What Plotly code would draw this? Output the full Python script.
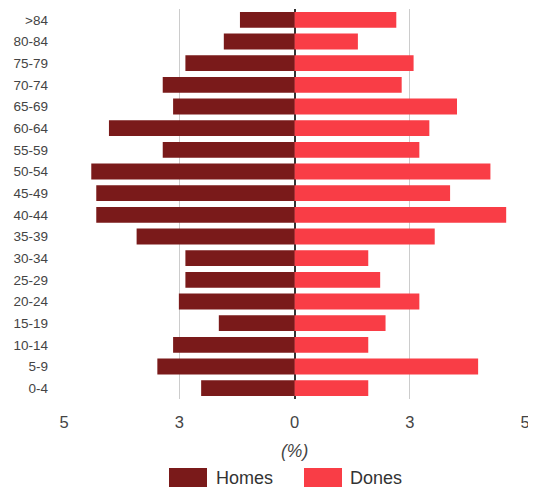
import plotly.graph_objects as go

age_groups = ["0-4", "5-9", "10-14", "15-19", "20-24", "25-29", "30-34", "35-39",
              "40-44", "45-49", "50-54", "55-59", "60-64", "65-69", "70-74",
              "75-79", "80-84", ">84"]
homes = [2.43, 3.57, 3.16, 1.97, 3.01, 2.84, 2.84, 4.11, 5.16, 5.16, 5.29,
         3.43, 4.83, 3.16, 3.43, 2.84, 1.84, 1.42]
dones = [1.92, 4.78, 1.92, 2.37, 3.25, 2.23, 1.92, 3.65, 5.51, 4.05, 5.10,
         3.25, 3.51, 4.23, 2.79, 3.10, 1.65, 2.65]
tick_vals = [-6, -3, 0, 3, 6]
tick_text = ["5", "3", "0", "3", "5"]

c_homes = "#7a1a1a"
c_dones = "#f93d46"

# page has an 8px body margin; compensate so the plot lands where the reference has it
OFF = 8
PL, PR, PT, PB = 64, 525, 9, 399  # plot area in window pixels
W, H = 536 - OFF, 488 - OFF

fig = go.Figure()
fig.add_trace(go.Bar(y=age_groups, x=[-v for v in homes], orientation="h",
                     name="Homes", marker=dict(color=c_homes, line=dict(width=0)),
                     customdata=homes, hovertemplate="%{y}: %{customdata}<extra>Homes</extra>"))
fig.add_trace(go.Bar(y=age_groups, x=dones, orientation="h",
                     name="Dones", marker=dict(color=c_dones, line=dict(width=0)),
                     hovertemplate="%{y}: %{x}<extra>Dones</extra>"))

fig.update_layout(
    width=W, height=H,
    margin=dict(l=PL - OFF, r=W - (PR - OFF), t=PT - OFF, b=H - (PB - OFF), pad=0),
    barmode="relative", bargap=0.27,
    plot_bgcolor="white", paper_bgcolor="white",
    showlegend=False,
    font=dict(family="Liberation Sans, Arial, sans-serif", color="#444"),
    xaxis=dict(range=[-6, 6], tickvals=tick_vals, ticktext=tick_text,
               showgrid=True, gridcolor="#cccccc", gridwidth=1.2,
               zeroline=True, zerolinecolor="#333333", zerolinewidth=1.5,
               showline=False, ticks="", tickfont=dict(size=16.5, color="#444"),
               ticklabelstandoff=11, fixedrange=True, automargin=False),
    yaxis=dict(range=[-0.5, 17.5], tickfont=dict(size=13.5, color="#444"),
               showgrid=False, zeroline=False, showline=False, ticks="",
               ticklabelstandoff=15, fixedrange=True, automargin=False),
)

ph = PB - PT
pw = PR - PL

# axis title
fig.add_annotation(text="<i>(%)</i>", xref="x", yref="paper", x=0,
                   y=-(451 - PB) / ph, showarrow=False,
                   font=dict(size=17.5, color="#444"), yanchor="middle")

# legend with large swatches
for name, col, x0, x1, tx in [("Homes", c_homes, 169, 207, 214), ("Dones", c_dones, 304, 342, 348)]:
    fig.add_shape(type="rect", xref="paper", yref="paper",
                  x0=(x0 - PL) / pw, x1=(x1 - PL) / pw,
                  y0=-(468 - PB) / ph, y1=-(487 - PB) / ph,
                  fillcolor=col, line=dict(width=0))
    fig.add_annotation(text=name, xref="paper", yref="paper",
                       x=(tx - PL) / pw, y=-(477.5 - PB) / ph,
                       xanchor="left", yanchor="middle", showarrow=False,
                       font=dict(size=18, color="#333"))

fig.write_html("out.html")
